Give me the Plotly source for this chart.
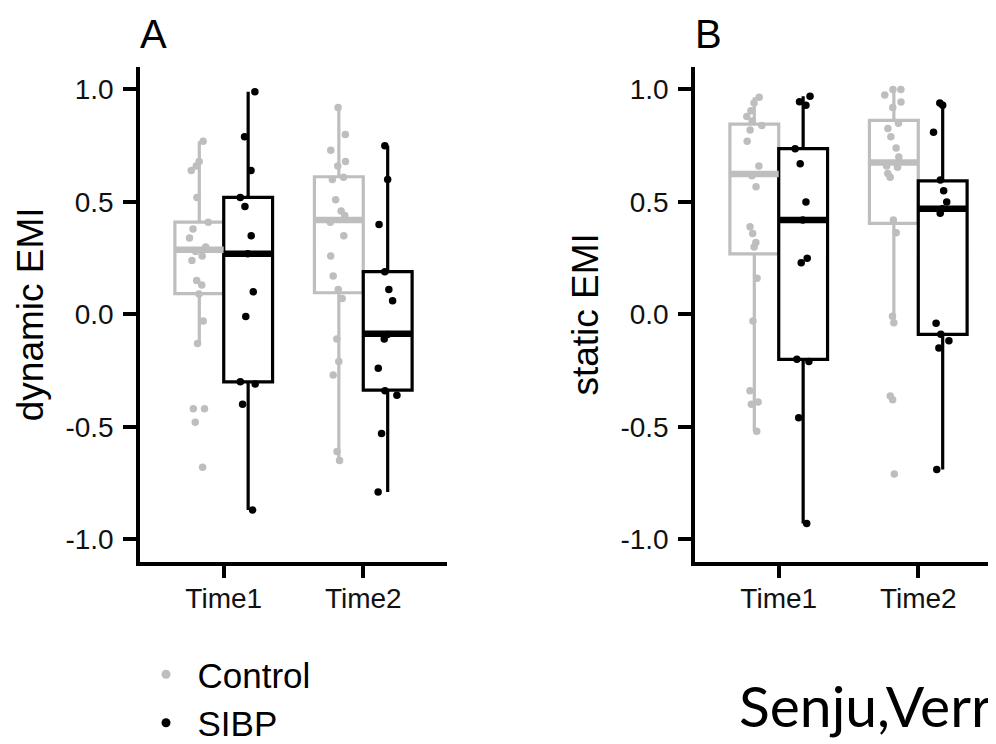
import plotly.graph_objects as go

# ---------------- data ----------------
times = ["Time1", "Time2"]
groups = ["Control", "SIBP"]
ytick_vals = [-1.0, -0.5, 0.0, 0.5, 1.0]
ytick_text = ["-1.0", "-0.5", "0.0", "0.5", "1.0"]

# Panel A: dynamic EMI, individual points
dyn_ctrl_t1 = [0.77, 0.68, 0.66, 0.64, 0.52, 0.41, 0.38, 0.34, 0.30, 0.28, 0.26,
               0.24, 0.15, 0.13, 0.09, -0.03, -0.13, -0.42, -0.42, -0.48, -0.68]
dyn_ctrl_t2 = [0.92, 0.80, 0.73, 0.68, 0.66, 0.61, 0.60, 0.51, 0.46, 0.44, 0.41,
               0.35, 0.26, 0.17, 0.11, 0.07, -0.11, -0.21, -0.27, -0.61, -0.65]
dyn_sibp_t1 = [0.99, 0.79, 0.64, 0.52, 0.48, 0.35, 0.27, 0.10, -0.01, -0.30, -0.31,
               -0.40, -0.87]
dyn_sibp_t2 = [0.75, 0.60, 0.40, 0.19, 0.11, 0.06, -0.09, -0.11, -0.24, -0.34, -0.36,
               -0.53, -0.79]
# Panel A box statistics [Time1, Time2]
dyn_ctrl_q1 = [0.092, 0.096]
dyn_ctrl_med = [0.287, 0.42]
dyn_ctrl_q3 = [0.41, 0.612]
dyn_ctrl_lo = [-0.13, -0.65]
dyn_ctrl_hi = [0.77, 0.92]
dyn_sibp_q1 = [-0.30, -0.337]
dyn_sibp_med = [0.27, -0.086]
dyn_sibp_q3 = [0.52, 0.19]
dyn_sibp_lo = [-0.87, -0.79]
dyn_sibp_hi = [0.99, 0.75]

# Panel B: static EMI, individual points
sta_ctrl_t1 = [0.965, 0.94, 0.905, 0.88, 0.86, 0.84, 0.82, 0.77, 0.66, 0.616, 0.568,
               0.39, 0.36, 0.32, 0.30, 0.16, -0.03, -0.34, -0.39, -0.40, -0.52]
sta_ctrl_t2 = [1.0, 1.0, 0.975, 0.944, 0.92, 0.85, 0.826, 0.79, 0.74, 0.70, 0.66,
               0.654, 0.626, 0.61, 0.42, 0.363, -0.008, -0.037, -0.363, -0.38, -0.71]
sta_sibp_t1 = [0.97, 0.945, 0.93, 0.737, 0.67, 0.50, 0.42, 0.25, 0.23, -0.20, -0.21,
               -0.46, -0.93]
sta_sibp_t2 = [0.94, 0.93, 0.81, 0.597, 0.55, 0.50, 0.47, 0.45, -0.04, -0.088, -0.117,
               -0.15, -0.69]
# Panel B box statistics [Time1, Time2]
sta_ctrl_q1 = [0.269, 0.405]
sta_ctrl_med = [0.624, 0.675]
sta_ctrl_q3 = [0.846, 0.863]
sta_ctrl_lo = [-0.52, -0.03]
sta_ctrl_hi = [0.965, 1.0]
sta_sibp_q1 = [-0.20, -0.089]
sta_sibp_med = [0.42, 0.47]
sta_sibp_q3 = [0.737, 0.594]
sta_sibp_lo = [-0.93, -0.69]
sta_sibp_hi = [0.97, 0.934]

# ---------------- styling ----------------
W, H = 996, 744
OFF = 8  # page body margin: screen position = paper position + OFF
GRAY = "#BEBEBE"
BLACK = "#000000"
colors = {"Control": GRAY, "SIBP": BLACK}
FONT = "Liberation Sans, Arial, Helvetica, sans-serif"


def px(sx):
    return (sx - OFF) / W


def py(sy):
    return 1 - (sy - OFF) / H


fig = go.Figure()


def add_panel(xa, ya, pts, stats):
    # boxes
    for g in groups:
        q1, med, q3, lo, hi = stats[g]
        fig.add_trace(go.Box(
            x=times, q1=q1, median=med, q3=q3, lowerfence=lo, upperfence=hi,
            line=dict(color=colors[g], width=3.2), fillcolor="white", whiskerwidth=0,
            boxpoints=False, offsetgroup=g, alignmentgroup="a", xaxis=xa, yaxis=ya,
            showlegend=False, hoverinfo="skip"))
    # thicker median bars
    for g in groups:
        med = stats[g][1]
        fig.add_trace(go.Box(
            x=times, q1=med, median=med, q3=med, lowerfence=med, upperfence=med,
            line=dict(color=colors[g], width=6.5), fillcolor="rgba(0,0,0,0)", whiskerwidth=0,
            boxpoints=False, offsetgroup=g, alignmentgroup="a", xaxis=xa, yaxis=ya,
            showlegend=False, hoverinfo="skip"))
    # jittered points
    for g in groups:
        t1, t2 = pts[g]
        fig.add_trace(go.Box(
            x=[times[0]] * len(t1) + [times[1]] * len(t2), y=t1 + t2,
            boxpoints="all", jitter=0.45, pointpos=0,
            marker=dict(color=colors[g], size=7.5, line=dict(width=0)),
            line=dict(width=0, color="rgba(0,0,0,0)"), fillcolor="rgba(0,0,0,0)",
            offsetgroup=g, alignmentgroup="a", xaxis=xa, yaxis=ya,
            showlegend=False, hoverinfo="skip"))


add_panel("x", "y",
          {"Control": (dyn_ctrl_t1, dyn_ctrl_t2), "SIBP": (dyn_sibp_t1, dyn_sibp_t2)},
          {"Control": (dyn_ctrl_q1, dyn_ctrl_med, dyn_ctrl_q3, dyn_ctrl_lo, dyn_ctrl_hi),
           "SIBP": (dyn_sibp_q1, dyn_sibp_med, dyn_sibp_q3, dyn_sibp_lo, dyn_sibp_hi)})
add_panel("x2", "y2",
          {"Control": (sta_ctrl_t1, sta_ctrl_t2), "SIBP": (sta_sibp_t1, sta_sibp_t2)},
          {"Control": (sta_ctrl_q1, sta_ctrl_med, sta_ctrl_q3, sta_ctrl_lo, sta_ctrl_hi),
           "SIBP": (sta_sibp_q1, sta_sibp_med, sta_sibp_q3, sta_sibp_lo, sta_sibp_hi)})

# legend entries
for g in groups:
    fig.add_trace(go.Scatter(x=[None], y=[None], mode="markers", name=g,
                             marker=dict(color=colors[g], size=9),
                             xaxis="x", yaxis="y", showlegend=True))

y_dom = [py(561.7), py(67)]
axis_common = dict(showline=True, linecolor="black", linewidth=3.5, ticks="outside",
                   ticklen=13, tickwidth=3.5, tickcolor="black", showgrid=False,
                   zeroline=False, automargin=False, fixedrange=True,
                   tickfont=dict(size=28, color="#111111", family=FONT))
x_common = dict(axis_common, ticklabelstandoff=-4)
y_common = dict(axis_common, ticklabelstandoff=4)

fig.update_layout(
    width=W, height=H, margin=dict(l=0, r=0, t=0, b=0, autoexpand=False),
    plot_bgcolor="white", paper_bgcolor="white",
    boxmode="group", boxgap=0.3, boxgroupgap=0,
    font=dict(family=FONT, color="black"),
    xaxis=dict(domain=[px(140), px(447)], type="category",
               range=[-0.6, 1.6], anchor="y", **x_common),
    xaxis2=dict(domain=[px(695), px(1002)], type="category",
                range=[-0.6, 1.6], anchor="y2", **x_common),
    yaxis=dict(domain=y_dom, range=[-1.1, 1.1], tickvals=ytick_vals, ticktext=ytick_text,
               anchor="x", title=dict(text="dynamic EMI", font=dict(size=37), standoff=11),
               **y_common),
    yaxis2=dict(domain=y_dom, range=[-1.1, 1.1], tickvals=ytick_vals, ticktext=ytick_text,
                anchor="x2", title=dict(text="static EMI", font=dict(size=37), standoff=11),
                **y_common),
    legend=dict(x=px(134.5), y=py(645), xanchor="left", yanchor="top",
                font=dict(size=35, family=FONT, color="black"),
                bgcolor="rgba(0,0,0,0)", itemwidth=53, tracegroupgap=0),
    showlegend=True,
)

fig.add_annotation(text="A", x=px(138), y=py(58), xref="paper", yref="paper",
                   xanchor="left", yanchor="bottom", showarrow=False,
                   font=dict(size=40, family=FONT, color="black"))
fig.add_annotation(text="B", x=px(693), y=py(58), xref="paper", yref="paper",
                   xanchor="left", yanchor="bottom", showarrow=False,
                   font=dict(size=40, family=FONT, color="black"))
fig.add_annotation(text="Senju,Verr", x=px(737), y=py(741), xref="paper", yref="paper",
                   xanchor="left", yanchor="bottom", showarrow=False,
                   font=dict(size=57, family="Lato, Open Sans, sans-serif", color="black"))

fig.write_html("out.html")
